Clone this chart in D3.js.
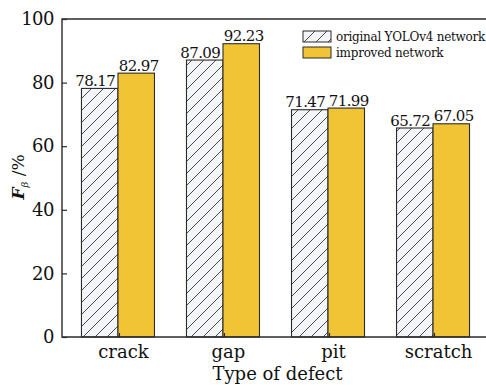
<!DOCTYPE html>
<html lang="en">
<head>
<meta charset="UTF-8">
<title>F-beta by defect type</title>
<script src="https://d3js.org/d3.v7.min.js"></script>
<style>
  body { margin: 0; background: #fff; }
  svg { display: block; font-family: "DejaVu Serif", "Liberation Serif", serif; }
</style>
</head>
<body>
<div id="chart"></div>
<script>
const categories = ["crack", "gap", "pit", "scratch"];
const seriesNames = ["original YOLOv4 network", "improved network"];
const original = [78.17, 87.09, 71.47, 65.72];
const improved = [82.97, 92.23, 71.99, 67.05];
const yTicks = [0, 20, 40, 60, 80, 100];

const width = 486, height = 385;
const mLeft = 62, mRight = 489, mTop = 19, mBottom = 337;
const yellow = "#f1c435";
const ink = "#2b2b2b";

const svg = d3.select("#chart").append("svg")
  .attr("width", width).attr("height", height);

// hatch pattern for the original network bars
const defs = svg.append("defs");
const pat = defs.append("pattern")
  .attr("id", "hatch")
  .attr("patternUnits", "userSpaceOnUse")
  .attr("width", 12).attr("height", 12);
pat.append("rect").attr("width", 12).attr("height", 12).attr("fill", "#f3f5f8");
pat.append("path")
  .attr("d", "M-3,3 L3,-3 M0,12 L12,0 M9,15 L15,9")
  .attr("stroke", ink).attr("stroke-width", 0.85);

const x = d3.scalePoint().domain(categories).range([mLeft, mRight]).padding(0.533);
const inner = d3.scaleBand().domain(seriesNames).range([-36.5, 36.5]);
const y = d3.scaleLinear().domain([0, 100]).range([mBottom, mTop]);

const rows = categories.map((c, i) => ({ cat: c, vals: [original[i], improved[i]] }));

// bars
const g = svg.append("g");
rows.forEach(r => {
  r.vals.forEach((v, j) => {
    const bx = x(r.cat) + inner(seriesNames[j]);
    g.append("rect")
      .attr("x", bx)
      .attr("y", y(v))
      .attr("width", inner.bandwidth())
      .attr("height", y(0) - y(v))
      .attr("fill", j === 0 ? "url(#hatch)" : yellow)
      .attr("stroke", ink)
      .attr("stroke-width", 1.1);
    g.append("text")
      .attr("x", bx + inner.bandwidth() / 2 + (j === 0 ? -4.5 : 2.5))
      .attr("y", y(v) - 2.5)
      .attr("text-anchor", "middle")
      .attr("font-size", 15)
      .attr("letter-spacing", -0.6)
      .attr("fill", "#111")
      .text(v.toFixed(2));
  });
});

// frame
svg.append("path")
  .attr("d", `M${mRight},${mTop} H${mLeft} V${mBottom} H${mRight}`)
  .attr("fill", "none").attr("stroke", ink).attr("stroke-width", 1.4);

// y axis (ticks pointing inward)
const yAxis = svg.append("g").attr("transform", `translate(${mLeft},0)`)
  .call(d3.axisLeft(y).tickValues(yTicks).tickSize(-5).tickPadding(8));
yAxis.select(".domain").remove();
yAxis.selectAll("line").attr("stroke", ink).attr("stroke-width", 1.2);
yAxis.selectAll("text").attr("font-size", 18).attr("fill", "#111")
  .attr("font-family", "DejaVu Serif, serif")
  .attr("letter-spacing", -0.5);

// x axis (ticks pointing inward)
const xAxis = svg.append("g").attr("transform", `translate(0,${mBottom})`)
  .call(d3.axisBottom(x).tickSize(-4).tickPadding(8));
xAxis.select(".domain").remove();
xAxis.selectAll("line").attr("stroke", ink).attr("stroke-width", 1.2)
  .attr("transform", "translate(1,0)");
xAxis.selectAll("text").attr("font-size", 18).attr("fill", "#111")
  .attr("font-family", "DejaVu Serif, serif")
  .attr("dx", 5);

// axis titles
svg.append("text")
  .attr("x", (mLeft + mRight) / 2 + 2)
  .attr("y", 380)
  .attr("text-anchor", "middle")
  .attr("font-size", 18)
  .attr("fill", "#111")
  .text("Type of defect");

const yl = svg.append("text")
  .attr("transform", "translate(24,177) rotate(-90)")
  .attr("text-anchor", "middle")
  .attr("font-size", 17)
  .attr("fill", "#111");
yl.append("tspan").attr("font-weight", "bold").attr("font-style", "italic").text("F");
yl.append("tspan").attr("font-size", 10).attr("font-style", "italic").attr("dy", 4).text("β");
yl.append("tspan").attr("dy", -4).text(" /%");

// legend
const legend = svg.append("g").attr("transform", "translate(303,31)");
seriesNames.forEach((name, i) => {
  legend.append("rect")
    .attr("x", 0).attr("y", i * 16)
    .attr("width", 28).attr("height", 11)
    .attr("fill", i === 0 ? "url(#hatch)" : yellow)
    .attr("stroke", ink).attr("stroke-width", 1);
  legend.append("text")
    .attr("x", 33).attr("y", i * 16 + 10)
    .attr("font-size", 12)
    .attr("letter-spacing", -0.25)
    .attr("fill", "#111")
    .text(name);
});
</script>
</body>
</html>
